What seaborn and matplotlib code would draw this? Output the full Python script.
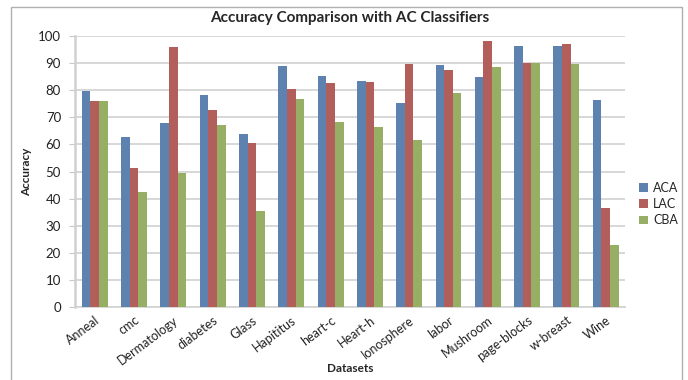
import matplotlib
matplotlib.use("Agg")
import matplotlib.pyplot as plt
from matplotlib.patches import Rectangle
import pandas as pd
import seaborn as sns

datasets = ["Anneal", "cmc", "Dermatology", "diabetes", "Glass", "Hapititus",
            "heart-c", "Heart-h", "Ionosphere", "labor", "Mushroom",
            "page-blocks", "w-breast", "Wine"]
aca = [79.9, 62.8, 67.9, 78.3, 64.0, 89.1, 85.3, 83.3, 75.4, 89.3, 85.0, 96.2, 96.2, 76.5]
lac = [76.0, 51.2, 95.9, 72.7, 60.6, 80.5, 82.7, 82.9, 89.8, 87.5, 98.2, 89.9, 96.9, 36.4]
cba = [76.0, 42.6, 49.6, 67.1, 35.5, 76.7, 68.3, 66.5, 61.7, 78.9, 88.6, 89.9, 89.6, 23.0]
classifiers = ["ACA", "LAC", "CBA"]
colors = ["#4F81BD", "#C0504D", "#9BBB59"]

df = pd.DataFrame({
    "Datasets": datasets * 3,
    "Accuracy": aca + lac + cba,
    "Classifier": [c for c in classifiers for _ in datasets],
})

sns.set_theme(style="white")
plt.rcParams["font.family"] = ["Lato", "DejaVu Sans"]

fig = plt.figure(figsize=(6.88, 3.80), dpi=100)
ax = fig.add_axes([0.109, 0.192, 0.800, 0.713])

sns.barplot(data=df, x="Datasets", y="Accuracy", hue="Classifier",
            palette=colors, width=0.66, gap=0, ax=ax, zorder=3,
            edgecolor="none", linewidth=0)

ax.set_ylim(0, 100)
ax.set_yticks(range(0, 101, 10))
ax.set_xlim(-0.5, len(datasets) - 0.5)
ax.yaxis.grid(True, color="#d4d4d4", linewidth=1.3, zorder=0)
ax.set_axisbelow(True)

for s in ["top", "right"]:
    ax.spines[s].set_visible(False)
ax.spines["left"].set_color("#d0d0d0")
ax.spines["left"].set_linewidth(1.8)
ax.spines["bottom"].set_color("#d4d4d4")
ax.spines["bottom"].set_linewidth(1.3)

ax.tick_params(axis="y", which="both", length=4, width=0.8, color="#c8c8c8",
               labelsize=9.5, labelcolor="#222222", pad=6, left=True)
ax.tick_params(axis="x", length=0, labelsize=9, labelcolor="#222222", pad=5)
plt.setp(ax.get_xticklabels(), rotation=37, ha="right", rotation_mode="anchor")

ax.set_xlabel("Datasets", fontsize=8.5, fontweight="bold")
ax.xaxis.set_label_coords(0.5, -0.205)
ax.set_ylabel("Accuracy", fontsize=8.5, fontweight="bold")
ax.yaxis.set_label_coords(-0.078, 0.5)
ax.set_title("Accuracy Comparison with AC Classifiers", fontsize=11,
             fontweight="bold", y=1.066, va="center", pad=0)

leg = ax.legend(loc="center left", bbox_to_anchor=(1.005, 0.38), frameon=False,
                fontsize=9, handlelength=0.7, handleheight=0.7,
                handletextpad=0.4, labelspacing=0.35)

fig.patches.append(Rectangle((11 / 688, -0.05), (682 - 11) / 688, 1.05 - 7 / 380,
                             transform=fig.transFigure, fill=False,
                             edgecolor="#b0b0b0", linewidth=1.0))

fig.savefig("out.png", dpi=100)
